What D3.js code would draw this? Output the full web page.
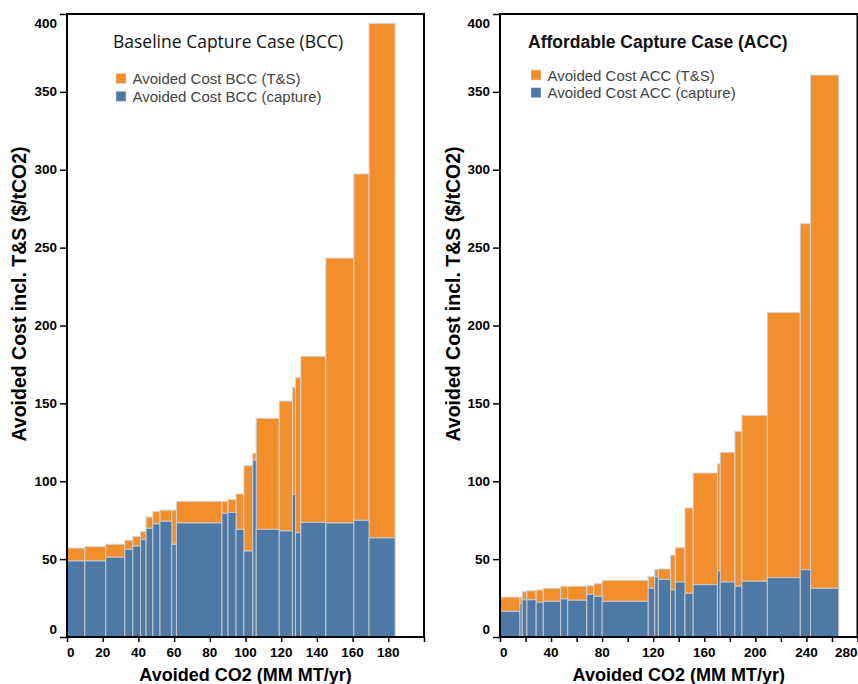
<!DOCTYPE html>
<html>
<head>
<meta charset="utf-8">
<script src="https://cdn.jsdelivr.net/npm/d3@7"></script>
<style>
  body { margin: 0; background: #fff; }
  svg text { font-family: Arial, "Liberation Sans", sans-serif; }
  .axisTitle { font-weight: bold; font-size: 18px; fill: #000; }
  .yTitle { font-size: 19.5px; }
  .legendText { font-size: 15px; fill: #444; }
</style>
</head>
<body>
<svg width="858" height="684"></svg>
<script>
let svg = d3.select("svg");

// Baseline Capture Case: width of each source (MM MT/yr), capture cost, total cost incl. T&S ($/tCO2)
let bccWidth   = [10, 11.7, 10.7, 4.5, 4.3, 3.1, 3.8, 4.0, 6.6, 2.6, 25.5, 3.4, 4.5, 4.4, 5.0, 1.9, 12.9, 7.4, 1.7, 3.0, 14.0, 15.7, 8.5, 14.6];
let bccCapture = [48.8, 48.8, 51.2, 56.3, 58.4, 62.5, 69.8, 72.6, 74.3, 59.5, 73.2, 79.4, 80, 69.1, 55.2, 113.6, 69.1, 68.1, 91.4, 67, 73.6, 73.2, 74.9, 63.6];
let bccTotal   = [57.1, 58, 59.5, 62.1, 64.6, 67.6, 77, 80.5, 81.5, 81.5, 87.1, 87.1, 88.4, 91.8, 110, 117.9, 140.4, 151.5, 160.3, 166.5, 180.2, 243.3, 297.3, 394];

// Affordable Capture Case
let accWidth   = [15.6, 1.8, 3.7, 7.2, 5.6, 13.6, 5.5, 15.0, 5.5, 6.5, 36.1, 5.1, 2.8, 9.6, 3.7, 7.6, 6.4, 19.0, 2.2, 11.5, 5.5, 19.9, 25.8, 8.0, 22.1];
let accCapture = [16.5, 21.6, 23.9, 23.9, 22.3, 22.9, 24.4, 23.6, 27.4, 26.1, 22.9, 31.3, 38.5, 37.0, 30.2, 35.3, 28.1, 33.6, 42.4, 35.3, 32.6, 35.8, 38.1, 43.2, 31.3];
let accTotal   = [25.6, 25.5, 29.1, 29.7, 30.2, 31.3, 32.6, 32.6, 32.9, 34.2, 36.4, 38.7, 43.3, 43.7, 52.5, 57.3, 82.8, 105.3, 111.1, 118.6, 132.1, 142.3, 208.3, 265.4, 360.8];

let yTicks = [0, 50, 100, 150, 200, 250, 300, 350, 400];
let bccXTicks = [0, 20, 40, 60, 80, 100, 120, 140, 160, 180, 200];
let bccXLabels = [0, 20, 40, 60, 80, 100, 120, 140, 160, 180];
let accXTicks = [0, 20, 40, 60, 80, 100, 120, 140, 160, 180, 200, 220, 240, 260, 280];
let accXLabels = [0, 40, 80, 120, 160, 200, 240, 280];

let colors = {ts: "#f28e2b", capture: "#4e79a7"};

let y = d3.scaleLinear().domain([0, 400]).range([637, 14]);

/**
* Builds one marginal cost panel: variable width stacked bars,
* axes, frame, title and legend.
*/
function drawPanel(p){
    let x = d3.scaleLinear().domain(p.domain).range(p.range);
    let g = svg.append("g");

    // cumulative start of each bar
    let start = 0;
    let bars = p.width.map((w, i) => {
        let b = {x0: start, x1: start + w, cap: p.capture[i], tot: p.total[i]};
        start += w;
        return b;
    });

    let barG = g.append("g");
    barG.selectAll("rect.ts").data(bars).enter().append("rect")
        .attr("class", "ts")
        .attr("x", d => x(d.x0))
        .attr("width", d => x(d.x1) - x(d.x0))
        .attr("y", d => y(d.tot))
        .attr("height", d => y(d.cap) - y(d.tot))
        .attr("fill", colors.ts)
        .attr("stroke", "#d4d4d4")
        .attr("stroke-width", 1);

    barG.selectAll("rect.cap").data(bars).enter().append("rect")
        .attr("class", "cap")
        .attr("x", d => x(d.x0))
        .attr("width", d => x(d.x1) - x(d.x0))
        .attr("y", d => y(d.cap))
        .attr("height", d => y(0) - y(d.cap))
        .attr("fill", colors.capture)
        .attr("stroke", "#c8c8c8")
        .attr("stroke-width", 1);

    // frame
    let [r0, r1] = p.range;
    g.append("path")
        .attr("d", `M${r0},${y(0)}V${y(400)}H${r1}V${y(0)}Z`)
        .attr("fill", "none")
        .attr("stroke", "#000")
        .attr("stroke-width", 2);

    // x axis
    let xAxis = g.append("g")
        .attr("transform", `translate(0,${y(0)})`)
        .call(d3.axisBottom(x).tickValues(p.xTicks).tickSize(5).tickFormat(""));
    xAxis.select(".domain").remove();
    xAxis.selectAll("line").attr("stroke", "#000").attr("stroke-width", 1.5);

    g.append("g").selectAll("text").data(p.xLabels).enter().append("text")
        .attr("x", d => x(d))
        .attr("y", 657)
        .attr("text-anchor", d => d === p.domain[0] ? "start" : (d === p.domain[1] ? "end" : "middle"))
        .style("font-weight", "bold")
        .style("font-size", "13.5px")
        .text(d => d);

    // y axis
    let yAxis = g.append("g")
        .attr("transform", `translate(${r0},0)`)
        .call(d3.axisLeft(y).tickValues(yTicks).tickSize(7).tickFormat(""));
    yAxis.select(".domain").remove();
    yAxis.selectAll("line").attr("stroke", "#000").attr("stroke-width", 1.5);

    g.append("g").selectAll("text").data(yTicks).enter().append("text")
        .attr("x", r0 - 10)
        .attr("y", d => d === 400 ? y(d) + 14 : (d === 0 ? y(d) - 3 : y(d) + 4.5))
        .attr("text-anchor", "end")
        .style("font-weight", "bold")
        .style("font-size", "13.5px")
        .text(d => d);

    // axis titles
    g.append("text")
        .attr("class", "axisTitle")
        .attr("x", (r0 + r1) / 2)
        .attr("y", 681)
        .attr("text-anchor", "middle")
        .text("Avoided CO2 (MM MT/yr)");

    g.append("text")
        .attr("class", "axisTitle yTitle")
        .attr("transform", `translate(${p.yTitleX},294) rotate(-90)`)
        .attr("text-anchor", "middle")
        .text("Avoided Cost incl. T&S ($/tCO2)");

    // panel title
    g.append("text")
        .attr("x", p.titleX)
        .attr("y", 48)
        .style("font-family", p.titleBold ? "Arial, sans-serif" : "'Open Sans', sans-serif")
        .style("font-weight", p.titleBold ? "bold" : "normal")
        .style("font-size", "17.5px")
        .style("fill", "#111")
        .text(p.title);

    // legend
    let legend = g.append("g")
        .attr("transform", `translate(${p.legendX},${p.legendY})`);
    let items = [{label: p.tsLabel, c: colors.ts}, {label: p.capLabel, c: colors.capture}];
    items.forEach((it, i) => {
        legend.append("rect")
            .attr("x", 0).attr("y", i * 17.7 - 5)
            .attr("width", 10).attr("height", 10)
            .attr("fill", it.c)
            .attr("stroke", "#ddd")
            .attr("stroke-width", 0.5);
        legend.append("text")
            .attr("class", "legendText")
            .attr("x", 16.5)
            .attr("y", i * 17.7 + 5.5)
            .text(it.label);
    });
}

drawPanel({
    domain: [0, 200], range: [67, 424],
    width: bccWidth, capture: bccCapture, total: bccTotal,
    xTicks: bccXTicks, xLabels: bccXLabels,
    yTitleX: 26,
    title: "Baseline Capture Case (BCC)", titleX: 113, titleBold: false,
    legendX: 116, legendY: 78.5,
    tsLabel: "Avoided Cost BCC (T&S)", capLabel: "Avoided Cost BCC (capture)"
});

drawPanel({
    domain: [0, 280], range: [500, 857.5],
    width: accWidth, capture: accCapture, total: accTotal,
    xTicks: accXTicks, xLabels: accXLabels,
    yTitleX: 460,
    title: "Affordable Capture Case (ACC)", titleX: 528, titleBold: true,
    legendX: 531, legendY: 75,
    tsLabel: "Avoided Cost ACC (T&S)", capLabel: "Avoided Cost ACC (capture)"
});
</script>
</body>
</html>
